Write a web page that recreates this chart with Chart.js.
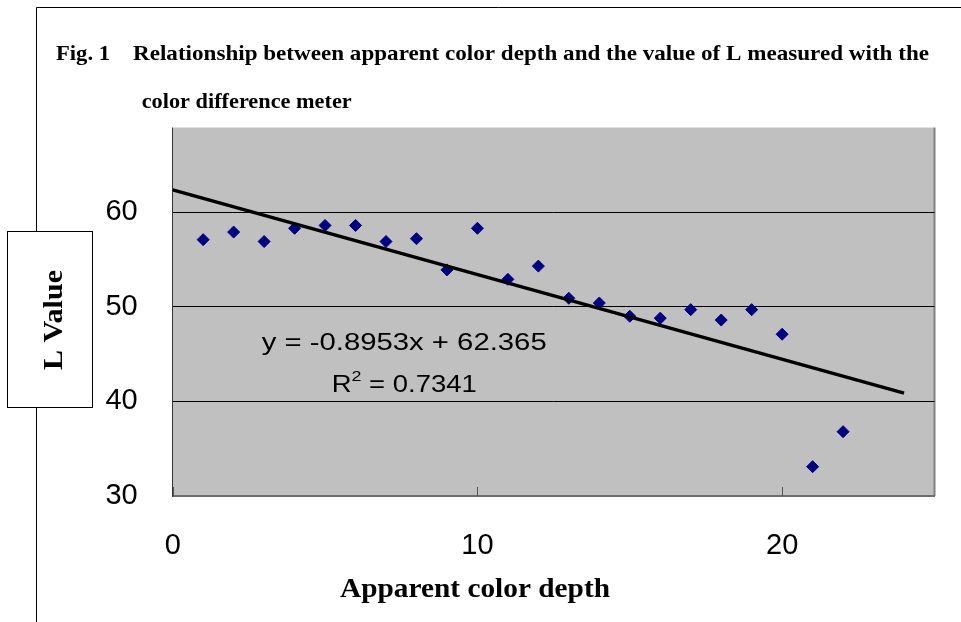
<!DOCTYPE html>
<html>
<head>
<meta charset="utf-8">
<title>Fig. 1 L value vs apparent color depth</title>
<script src="https://cdn.jsdelivr.net/npm/chart.js@4/dist/chart.umd.min.js"></script>
<style>
  html, body { margin: 0; padding: 0; background: #fff; }
  #wrap { position: relative; width: 961px; height: 622px; }
</style>
</head>
<body>
<div id="wrap"><canvas id="grafico" width="961" height="622"></canvas></div>
<script>
// 👉 Datos
const depth = [1, 2, 3, 4, 5, 6, 7, 8, 9, 10, 11, 12, 13, 14, 15, 16, 17, 18, 19, 20, 21, 22];
const lValue = [57.1, 57.9, 56.9, 58.3, 58.6, 58.6, 56.9, 57.2, 53.9, 58.3, 52.9, 54.3,
                50.9, 50.4, 49.0, 48.8, 49.7, 48.6, 49.7, 47.1, 33.1, 36.8];
const xTicks = [0, 10, 20];
const yTicks = [30, 40, 50, 60, 70];

// 👉 Línea de tendencia (ecuación de la figura)
const trendX = [0, 24];
const slope = -0.8953;
const intercept = 62.365;
const r2 = 0.7341;

const titleLine1 = 'Relationship between apparent color depth and the value of L measured with the';
const titleLine2 = 'color difference meter';
const xTitle = 'Apparent color depth';
const yTitle = 'L Value';

const SANS = "'Liberation Sans', Arial, sans-serif";
const SERIF = "'Liberation Serif', 'Times New Roman', serif";

// texto escalado horizontalmente para que ocupe un ancho dado
function textoAjustado(ctx, txt, x, y, ancho) {
  const w = ctx.measureText(txt).width;
  ctx.save();
  ctx.translate(x, y);
  ctx.scale(ancho / w, 1);
  ctx.fillText(txt, 0, 0);
  ctx.restore();
}

const fondoPlot = {
  id: 'fondoPlot',
  beforeDraw(chart) {
    const { ctx, chartArea: a } = chart;
    ctx.save();
    ctx.fillStyle = '#c0c0c0';
    ctx.fillRect(a.left, a.top, a.right - a.left, a.bottom - a.top);
    ctx.strokeStyle = '#808080';
    ctx.lineWidth = 2;
    ctx.beginPath();
    ctx.moveTo(a.right, a.top);
    ctx.lineTo(a.right, a.bottom);
    ctx.stroke();
    ctx.restore();
  },
  beforeDatasetsDraw(chart) {
    // marcas del eje x hacia dentro
    const { ctx, chartArea: a, scales } = chart;
    ctx.save();
    ctx.strokeStyle = '#555';
    ctx.lineWidth = 1;
    xTicks.forEach(v => {
      const px = Math.round(scales.x.getPixelForValue(v)) + 0.5;
      ctx.beginPath();
      ctx.moveTo(px, a.bottom - 9);
      ctx.lineTo(px, a.bottom);
      ctx.stroke();
    });
    ctx.restore();
  }
};

const rotulos = {
  id: 'rotulos',
  afterDraw(chart) {
    const ctx = chart.ctx;
    ctx.save();

    // 🔧 caja del título (tapa la parte alta del gráfico)
    ctx.fillStyle = '#fff';
    ctx.fillRect(37, 8, 924, 119.5);

    // marco exterior
    ctx.strokeStyle = '#000';
    ctx.lineWidth = 1;
    ctx.beginPath();
    ctx.moveTo(961, 7.5);
    ctx.lineTo(36.5, 7.5);
    ctx.lineTo(36.5, 622);
    ctx.stroke();

    // caja de "L Value"
    ctx.fillStyle = '#fff';
    ctx.fillRect(7.5, 231.5, 85, 176);
    ctx.strokeRect(7.5, 231.5, 85, 176);

    ctx.fillStyle = '#000';
    ctx.textBaseline = 'alphabetic';
    ctx.textAlign = 'left';

    // título
    ctx.font = 'bold 22px ' + SERIF;
    textoAjustado(ctx, 'Fig. 1', 56, 60, 54);
    textoAjustado(ctx, titleLine1, 133, 60, 796);
    textoAjustado(ctx, titleLine2, 141.7, 108.3, 210);

    // título eje x
    ctx.font = 'bold 28px ' + SERIF;
    textoAjustado(ctx, xTitle, 340, 597, 270);

    // título eje y (rotado)
    ctx.save();
    ctx.translate(62, 370);
    ctx.rotate(-Math.PI / 2);
    ctx.font = 'bold 28px ' + SERIF;
    textoAjustado(ctx, yTitle, 0, 0, 100);
    ctx.restore();

    // ecuación y R²
    ctx.font = '23px ' + SANS;
    textoAjustado(ctx, `y = ${slope}x + ${intercept}`, 261.7, 350, 285);

    const resto = ` = ${r2}`;
    ctx.font = '23px ' + SANS;
    const wR = ctx.measureText('R').width;
    const wResto = ctx.measureText(resto).width;
    ctx.font = '15px ' + SANS;
    const w2 = ctx.measureText('2').width;
    const k = 145 / (wR + w2 + wResto);
    ctx.save();
    ctx.translate(331.7, 392);
    ctx.scale(k, 1);
    ctx.font = '23px ' + SANS;
    ctx.fillText('R', 0, 0);
    ctx.font = '15px ' + SANS;
    ctx.fillText('2', wR, -11);
    ctx.font = '23px ' + SANS;
    ctx.fillText(resto, wR + w2, 0);
    ctx.restore();

    ctx.restore();
  }
};

new Chart(document.getElementById('grafico'), {
  type: 'scatter',
  data: {
    datasets: [
      {
        type: 'line',
        label: 'Tendencia',
        data: trendX.map(x => ({ x: x, y: slope * x + intercept })),
        borderColor: '#000',
        borderWidth: 3.5,
        pointRadius: 0,
        fill: false,
        order: 0
      },
      {
        label: 'L',
        data: depth.map((x, i) => ({ x: x, y: lValue[i] })),
        pointStyle: 'rectRot',
        pointRadius: 6,
        pointBorderWidth: 1,
        backgroundColor: '#000080',
        borderColor: '#000080',
        order: 1
      }
    ]
  },
  options: {
    responsive: false,
    animation: false,
    devicePixelRatio: 1,
    layout: { padding: { top: 117.6, right: 26.5, bottom: 0, left: 0 } },
    plugins: {
      legend: { display: false },
      tooltip: { enabled: false },
      title: { display: false }
    },
    scales: {
      x: {
        type: 'linear',
        min: 0,
        max: 25,
        afterFit(s) { s.height = 126; },
        afterBuildTicks(s) { s.ticks = xTicks.map(v => ({ value: v })); },
        grid: { display: false, drawTicks: false },
        border: { display: true, color: '#6e6e6e', width: 2 },
        ticks: {
          color: '#000',
          padding: 33,
          font: { family: SANS, size: 29 }
        }
      },
      y: {
        type: 'linear',
        min: 30,
        max: 70,
        afterFit(s) { s.width = 172.7; },
        afterBuildTicks(s) { s.ticks = yTicks.map(v => ({ value: v })); },
        grid: { color: '#000', lineWidth: 1, drawTicks: false },
        border: { display: true, color: '#333', width: 1 },
        ticks: {
          color: '#000',
          padding: 35,
          font: { family: SANS, size: 29 }
        }
      }
    }
  },
  plugins: [fondoPlot, rotulos]
});
</script>
</body>
</html>
